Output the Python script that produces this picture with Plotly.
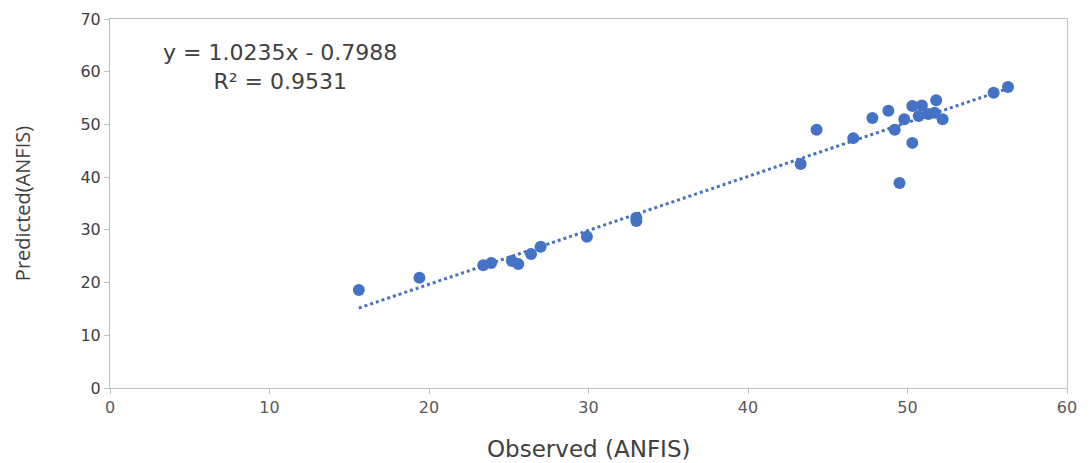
import plotly.graph_objects as go

observed = [15.6, 19.4, 23.4, 23.9, 25.2, 25.6, 26.4, 27.0, 29.9, 33.0, 33.0,
            43.3, 44.3, 46.6, 47.8, 48.8, 49.2, 49.5, 49.8, 50.3, 50.3, 50.7,
            50.9, 51.3, 51.7, 51.8, 52.2, 55.4, 56.3]
predicted = [18.6, 20.9, 23.3, 23.7, 24.1, 23.5, 25.4, 26.8, 28.7, 32.3, 31.7,
             42.5, 49.0, 47.4, 51.2, 52.6, 49.0, 38.9, 51.0, 53.5, 46.5, 51.6,
             53.6, 52.0, 52.2, 54.6, 51.0, 56.0, 57.1]
slope = 1.0235
intercept = -0.7988
r_squared = 0.9531
x_ticks = [0, 10, 20, 30, 40, 50, 60]
y_ticks = [0, 10, 20, 30, 40, 50, 60, 70]
x_title = "Observed (ANFIS)"
y_title = "Predicted(ANFIS)"

blue = "#4472C4"
axis_col = "#BFBFBF"
fam = "Open Sans, Liberation Sans, sans-serif"
wide = "DejaVu Sans, sans-serif"

x_line = [min(observed), max(observed)]
y_line = [slope * v + intercept for v in x_line]

fig = go.Figure()
fig.add_trace(go.Scatter(x=x_line, y=y_line, mode="lines",
                         line=dict(color=blue, width=3, dash="dot"),
                         showlegend=False, hoverinfo="skip"))
fig.add_trace(go.Scatter(x=observed, y=predicted, mode="markers",
                         marker=dict(color=blue, size=12),
                         showlegend=False))

fig.add_annotation(x=10.65, y=60.9, xref="x", yref="y", showarrow=False,
                   text=f"y = {slope}x - {abs(intercept)}<br>R² = {r_squared}",
                   font=dict(family=wide, size=22, color="#404040"),
                   align="center")

fig.add_annotation(x=30, y=-0.165, xref="x", yref="paper", showarrow=False,
                   xanchor="center", yanchor="middle", text=x_title,
                   font=dict(family=wide, size=23, color="#404040"))

fig.update_layout(
    width=1083, height=455,
    margin=dict(l=102, r=24, t=11, b=75),
    paper_bgcolor="white", plot_bgcolor="white",
    xaxis=dict(range=[0, 60], tickvals=x_ticks, showgrid=False, zeroline=False,
               showline=True, linecolor=axis_col, linewidth=1, mirror=True,
               ticks="outside", ticklen=5, tickcolor=axis_col,
               tickfont=dict(family=wide, size=16, color="#595959"),
               automargin=False, ticklabeloverflow="allow"),
    yaxis=dict(range=[0, 70], tickvals=y_ticks, showgrid=False, zeroline=False,
               showline=True, linecolor=axis_col, linewidth=1, mirror=True,
               ticks="outside", ticklen=5, tickcolor=axis_col,
               tickfont=dict(family=wide, size=16, color="#404040"),
               automargin=False, ticklabeloverflow="allow",
               title=dict(text=y_title, standoff=44,
                          font=dict(family=fam, size=20, color="#404040"))),
)

fig.write_html("out.html")
